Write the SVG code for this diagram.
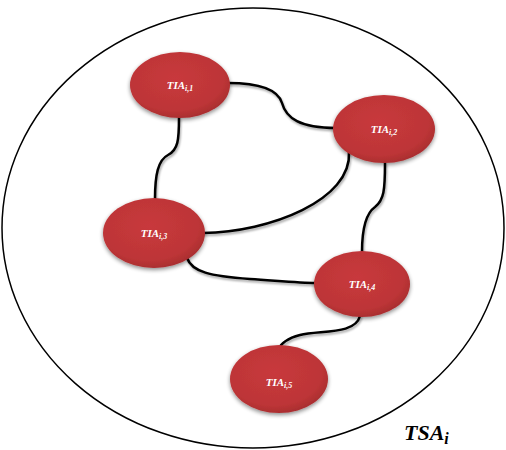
<svg xmlns="http://www.w3.org/2000/svg" width="506" height="450" viewBox="0 0 506 450">
<defs>
<radialGradient id="rg" cx="0.45" cy="0.4" r="0.65">
<stop offset="0" stop-color="#c8393c"/>
<stop offset="0.75" stop-color="#bd3537"/>
<stop offset="1" stop-color="#a22b2c"/>
</radialGradient>
<filter id="sh" x="-20%" y="-20%" width="140%" height="150%">
<feGaussianBlur in="SourceAlpha" stdDeviation="2"/>
<feOffset dx="0" dy="2" result="b"/>
<feComponentTransfer><feFuncA type="linear" slope="0.45"/></feComponentTransfer>
<feMerge><feMergeNode/><feMergeNode in="SourceGraphic"/></feMerge>
</filter>
<filter id="lsh" x="-10%" y="-10%" width="120%" height="130%">
<feGaussianBlur in="SourceAlpha" stdDeviation="1"/>
<feOffset dx="1" dy="1.5"/>
<feComponentTransfer><feFuncA type="linear" slope="0.35"/></feComponentTransfer>
<feMerge><feMergeNode/><feMergeNode in="SourceGraphic"/></feMerge>
</filter>
</defs>
<style>
.node{fill:url(#rg);filter:url(#sh)}
.lbl{font-family:"Liberation Serif",serif;font-weight:bold;font-style:italic;font-size:11px;fill:#ffffff;text-anchor:middle}
.sub{font-size:8px}
.edge{fill:none;stroke:#000;stroke-width:2.5;stroke-linecap:round}
.big{fill:none;stroke:#000;stroke-width:1.5}
.title{font-family:"Liberation Serif",serif;font-weight:bold;font-style:italic;font-size:22px;fill:#000}
</style>
<rect width="506" height="450" fill="#fff"/>
<ellipse class="big" cx="253" cy="228" rx="251" ry="220"/>
<g id="connectors" filter="url(#lsh)">
<path class="edge" d="M228,83 C262,83 278,90 282,103 C286,118 300,128 336,128"/>
<path class="edge" d="M179,118 C179,140 178,150 168,155 C158,160 155,175 155,199"/>
<path class="edge" d="M349,152 C352,200 270,232 203,233"/>
<path class="edge" d="M187,258 C192,272 210,276 250,279 C280,281 300,283 316,283"/>
<path class="edge" d="M385,163 C385,190 384,200 375,207 C365,214 362,230 362,252"/>
<path class="edge" d="M360,316 C355,335 320,330 300,335 C285,339 280,345 278,350"/>
</g>
<g id="n1"><ellipse class="node" cx="180" cy="85" rx="50" ry="33"/><text class="lbl" x="180" y="89">TIA<tspan class="sub" dy="2">i,1</tspan></text></g>
<g id="n2"><ellipse class="node" cx="384" cy="129" rx="51" ry="34"/><text class="lbl" x="384" y="133">TIA<tspan class="sub" dy="2">i,2</tspan></text></g>
<g id="n3"><ellipse class="node" cx="154" cy="233" rx="51" ry="35"/><text class="lbl" x="154" y="237">TIA<tspan class="sub" dy="2">i,3</tspan></text></g>
<g id="n4"><ellipse class="node" cx="362" cy="284" rx="48" ry="33"/><text class="lbl" x="362" y="288">TIA<tspan class="sub" dy="2">i,4</tspan></text></g>
<g id="n5"><ellipse class="node" cx="279" cy="379" rx="49" ry="34"/><text class="lbl" x="279" y="386">TIA<tspan class="sub" dy="2">i,5</tspan></text></g>
<text class="title" x="404" y="440">TSA<tspan font-size="16" dy="4">i</tspan></text>
</svg>
